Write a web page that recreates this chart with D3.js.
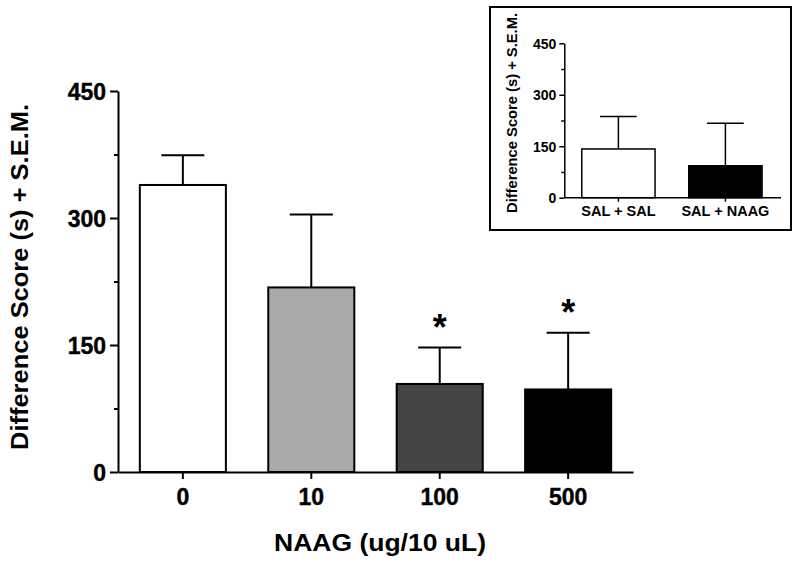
<!DOCTYPE html>
<html>
<head>
<meta charset="utf-8">
<script src="https://cdn.jsdelivr.net/npm/d3@7"></script>
<style>
  body { margin: 0; background: #fff; }
  svg { display: block; }
  text { font-family: Arial, "Liberation Sans", Helvetica, sans-serif; font-weight: bold; fill: #000; }
</style>
</head>
<body>
<svg id="chart" width="800" height="565"></svg>
<script>
// ---- Main chart data ----
const doses = ["0", "10", "100", "500"];
const means = [339, 218, 104, 97.5];
const sems = [35, 86, 43, 67];
const significant = [false, false, true, true];
const barColors = ["#ffffff", "#aaaaaa", "#444444", "#000000"];
const yTicks = [0, 150, 300, 450];
const yMinorTicks = [75, 225, 375];

// ---- Inset data ----
const insetGroups = ["SAL + SAL", "SAL + NAAG"];
const insetMeans = [142, 93];
const insetSems = [95, 124];
const insetColors = ["#ffffff", "#000000"];

const svg = d3.select("#chart");

// ===== Main chart =====
const x = d3.scaleBand().domain(doses).range([118, 633]).paddingInner(0.33).paddingOuter(0.17);
const y = d3.scaleLinear().domain([0, 450]).range([472, 91]);

const main = svg.append("g");

// bars
const bars = main.selectAll(".bar").data(doses).enter().append("g");
bars.append("rect")
  .attr("x", d => x(d))
  .attr("width", x.bandwidth())
  .attr("y", (d, i) => y(means[i]))
  .attr("height", (d, i) => y(0) - y(means[i]))
  .attr("fill", (d, i) => barColors[i])
  .attr("stroke", "#000")
  .attr("stroke-width", 2);
// error bars
bars.append("line")
  .attr("x1", d => x(d) + x.bandwidth() / 2)
  .attr("x2", d => x(d) + x.bandwidth() / 2)
  .attr("y1", (d, i) => y(means[i]))
  .attr("y2", (d, i) => y(means[i] + sems[i]))
  .attr("stroke", "#000").attr("stroke-width", 2);
bars.append("line")
  .attr("x1", d => x(d) + x.bandwidth() / 4)
  .attr("x2", d => x(d) + x.bandwidth() * 3 / 4)
  .attr("y1", (d, i) => y(means[i] + sems[i]))
  .attr("y2", (d, i) => y(means[i] + sems[i]))
  .attr("stroke", "#000").attr("stroke-width", 2);
// significance stars
bars.filter((d, i) => significant[i]).append("text")
  .attr("x", d => x(d) + x.bandwidth() / 2)
  .attr("y", d => { const i = doses.indexOf(d); return y(means[i] + sems[i]) - 8; })
  .attr("text-anchor", "middle")
  .attr("font-size", 36)
  .text("*");

// y axis
const yAxis = d3.axisLeft(y).tickValues(yTicks).tickSize(8).tickPadding(4).tickSizeOuter(0);
const yg = main.append("g").attr("transform", "translate(118,0)").call(yAxis);
yg.select(".domain").attr("stroke", "#000").attr("stroke-width", 2);
yg.selectAll(".tick line").attr("stroke-width", 2);
yg.selectAll(".tick text").attr("font-size", 23).attr("font-family", null).attr("dy", "0.36em")
  .attr("stroke", "#000").attr("stroke-width", 0.4);
const yMinor = d3.axisLeft(y).tickValues(yMinorTicks).tickSize(4).tickFormat("").tickSizeOuter(0);
const ymg = main.append("g").attr("transform", "translate(118,0)").call(yMinor);
ymg.select(".domain").remove();
ymg.selectAll(".tick line").attr("stroke-width", 2);

// x axis
const xAxis = d3.axisBottom(x).tickSize(7).tickPadding(10).tickSizeOuter(0);
const xg = main.append("g").attr("transform", "translate(0,472)").call(xAxis);
xg.select(".domain").attr("stroke-width", 2);
xg.selectAll(".tick line").attr("stroke-width", 2);
xg.selectAll(".tick text").attr("font-size", 23).attr("font-family", null)
  .attr("stroke", "#000").attr("stroke-width", 0.4);

// axis titles
main.append("text")
  .attr("x", 380).attr("y", 551)
  .attr("text-anchor", "middle")
  .attr("font-size", 24)
  .attr("textLength", 212).attr("lengthAdjust", "spacingAndGlyphs")
  .text("NAAG (ug/10 uL)");
main.append("text")
  .attr("transform", "translate(28,277) rotate(-90)")
  .attr("text-anchor", "middle")
  .attr("font-size", 24)
  .attr("textLength", 346).attr("lengthAdjust", "spacingAndGlyphs")
  .text("Difference Score (s) + S.E.M.");

// ===== Inset =====
const inset = svg.append("g");
inset.append("rect")
  .attr("x", 490).attr("y", 7).attr("width", 301).attr("height", 223)
  .attr("fill", "#fff").attr("stroke", "#000").attr("stroke-width", 2);

const ix = d3.scaleBand().domain(insetGroups).range([564.3, 779.5]).paddingInner(0.315).paddingOuter(0.163);
const iy = d3.scaleLinear().domain([0, 450]).range([197.7, 43.3]);

const ib = inset.selectAll(".ibar").data(insetGroups).enter().append("g");
ib.append("rect")
  .attr("x", d => ix(d))
  .attr("width", ix.bandwidth())
  .attr("y", (d, i) => iy(insetMeans[i]))
  .attr("height", (d, i) => iy(0) - iy(insetMeans[i]))
  .attr("fill", (d, i) => insetColors[i])
  .attr("stroke", "#000").attr("stroke-width", 1.5);
ib.append("line")
  .attr("x1", d => ix(d) + ix.bandwidth() / 2)
  .attr("x2", d => ix(d) + ix.bandwidth() / 2)
  .attr("y1", (d, i) => iy(insetMeans[i]))
  .attr("y2", (d, i) => iy(insetMeans[i] + insetSems[i]))
  .attr("stroke", "#000").attr("stroke-width", 1.5);
ib.append("line")
  .attr("x1", d => ix(d) + ix.bandwidth() / 4)
  .attr("x2", d => ix(d) + ix.bandwidth() * 3 / 4)
  .attr("y1", (d, i) => iy(insetMeans[i] + insetSems[i]))
  .attr("y2", (d, i) => iy(insetMeans[i] + insetSems[i]))
  .attr("stroke", "#000").attr("stroke-width", 1.5);

const iyAxis = d3.axisLeft(iy).tickValues(yTicks).tickSize(5).tickPadding(3).tickSizeOuter(0);
const iyg = inset.append("g").attr("transform", "translate(564.3,0)").call(iyAxis);
iyg.select(".domain").attr("stroke-width", 1.5);
iyg.selectAll(".tick line").attr("stroke-width", 1.5);
iyg.selectAll(".tick text").attr("font-size", 14).attr("font-family", null).attr("dy", "0.36em");
const iyMinor = d3.axisLeft(iy).tickValues(yMinorTicks).tickSize(3).tickFormat("").tickSizeOuter(0);
const iymg = inset.append("g").attr("transform", "translate(564.3,0)").call(iyMinor);
iymg.select(".domain").remove();
iymg.selectAll(".tick line").attr("stroke-width", 1.5);

const ixAxis = d3.axisBottom(ix).tickSize(4).tickPadding(4).tickSizeOuter(0);
const ixg = inset.append("g").attr("transform", "translate(0,197.7)").call(ixAxis);
ixg.select(".domain").attr("stroke-width", 1.5).attr("d", "M564.3,0H781");
ixg.selectAll(".tick line").attr("stroke-width", 1.5);
ixg.selectAll(".tick text").attr("font-size", 14.5).attr("font-family", null);

inset.append("text")
  .attr("transform", "translate(517,113) rotate(-90)")
  .attr("text-anchor", "middle")
  .attr("font-size", 14)
  .attr("textLength", 200).attr("lengthAdjust", "spacingAndGlyphs")
  .text("Difference Score (s) + S.E.M.");
</script>
</body>
</html>
